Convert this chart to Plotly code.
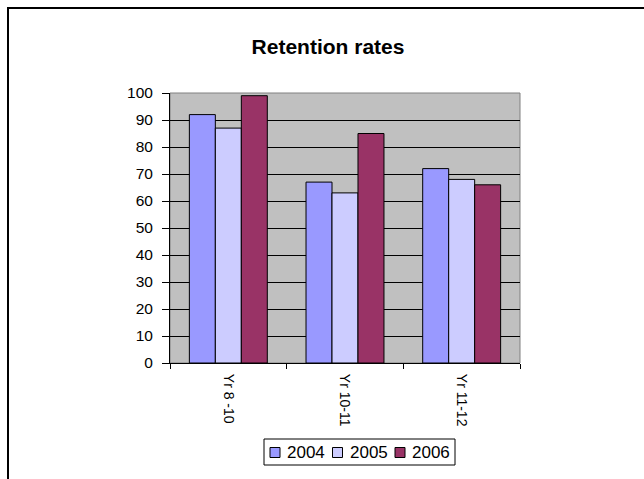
import plotly.graph_objects as go

# Retention rates by year group, 2004-2006
categories = ["Yr 8 -10", "Yr 10-11", "Yr 11-12"]
years = ["2004", "2005", "2006"]
rates_2004 = [92, 67, 72]
rates_2005 = [87, 63, 68]
rates_2006 = [99, 85, 66]
y_ticks = [0, 10, 20, 30, 40, 50, 60, 70, 80, 90, 100]

series = [rates_2004, rates_2005, rates_2006]
colors = ["#9999FF", "#CCCCFF", "#993366"]

FONT = "Arial, Liberation Sans, sans-serif"
W, H = 644, 479
ML, MR, MT, MB = 170, 124, 93, 116
PW, PH = W - ML - MR, H - MT - MB


def px_x(px):
    """Pixel column -> paper x."""
    return (px - ML) / PW


def px_y(py):
    """Pixel row (from top) -> paper y."""
    return (H - MB - py) / PH


fig = go.Figure()
for name, vals, col in zip(years, series, colors):
    fig.add_trace(go.Bar(
        x=categories, y=vals, name=name, showlegend=False,
        marker=dict(color=col, line=dict(color="black", width=1)),
    ))

shapes = [
    # gray frame around the plot area (axis lines drawn over it)
    dict(type="rect", xref="paper", yref="paper", x0=0, y0=0, x1=1, y1=1,
         line=dict(color="#808080", width=1), layer="below"),
    # outer chart border
    dict(type="rect", xref="paper", yref="paper",
         x0=px_x(8), x1=2.0, y0=-1.0, y1=px_y(8),
         line=dict(color="black", width=2)),
    # legend box
    dict(type="rect", xref="paper", yref="paper",
         x0=px_x(264), x1=px_x(455), y0=px_y(465), y1=px_y(439),
         line=dict(color="black", width=1), fillcolor="white"),
]
annotations = []

# legend entries: swatch + label, laid out left to right
leg_x0, leg_step, leg_cy, sw = 270, 62.5, 452.5, 10
for i, (name, col) in enumerate(zip(years, colors)):
    sx = leg_x0 + i * leg_step
    shapes.append(dict(
        type="rect", xref="paper", yref="paper",
        x0=px_x(sx), x1=px_x(sx + sw),
        y0=px_y(leg_cy + sw / 2), y1=px_y(leg_cy - sw / 2),
        line=dict(color="black", width=1), fillcolor=col,
    ))
    annotations.append(dict(
        text=name, xref="paper", yref="paper",
        x=px_x(sx + sw + 5), y=px_y(leg_cy),
        xanchor="left", yanchor="middle", showarrow=False,
        font=dict(family=FONT, size=17, color="black"),
    ))

fig.update_layout(
    width=W, height=H,
    margin=dict(l=ML, r=MR, t=MT, b=MB, autoexpand=False),
    paper_bgcolor="white",
    plot_bgcolor="#C0C0C0",
    barmode="group",
    bargap=0.332,
    bargroupgap=0,
    showlegend=False,
    font=dict(family=FONT, size=14, color="black"),
    title=dict(
        text="<b>Retention rates</b>",
        font=dict(family=FONT, size=21, color="black"),
        x=328 / W, xanchor="center", xref="container",
        y=1 - 47 / H, yanchor="middle", yref="container",
    ),
    xaxis=dict(
        type="category",
        automargin=False,
        showgrid=False,
        showline=True, linecolor="black", linewidth=1,
        ticks="outside", tickson="boundaries", ticklen=5,
        tickcolor="black", tickwidth=1,
        tickangle=90,
        ticklabelstandoff=7,
        tickfont=dict(family=FONT, size=14),
    ),
    yaxis=dict(
        range=[0, 100],
        automargin=False,
        tickvals=y_ticks,
        showgrid=True, gridcolor="black", gridwidth=1,
        showline=True, linecolor="black", linewidth=1,
        ticks="outside", ticklen=7, tickcolor="black", tickwidth=1,
        ticklabelstandoff=6,
        zeroline=False,
        tickfont=dict(family=FONT, size=15.5),
    ),
    shapes=shapes,
    annotations=annotations,
)

fig.write_html("out.html")
